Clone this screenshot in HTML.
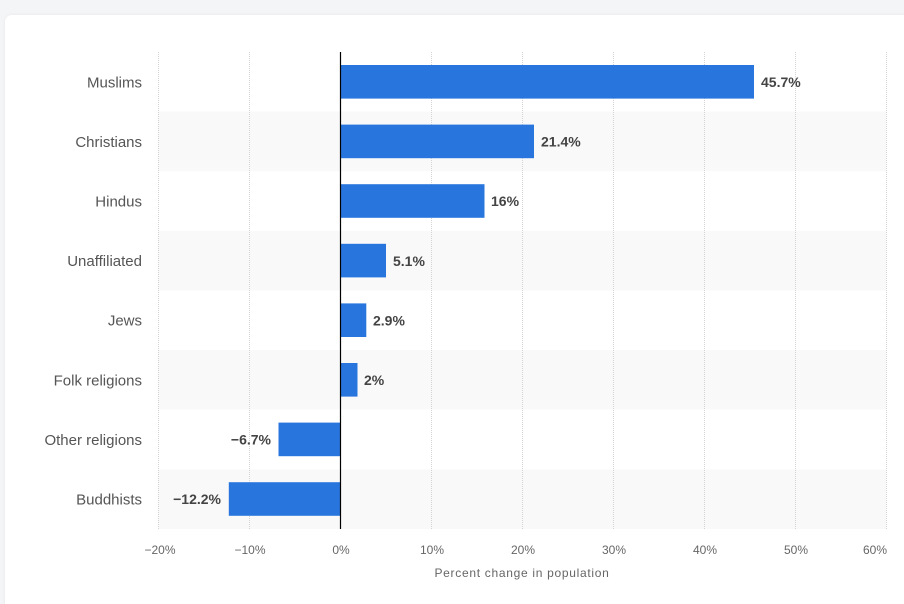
<!DOCTYPE html>
<html>
<head>
<meta charset="utf-8">
<style>
  html,body{margin:0;padding:0;background:#f4f5f7;}
  body{width:904px;height:604px;overflow:hidden;position:relative;font-family:"Liberation Sans",sans-serif;}
  svg{position:absolute;left:0;top:0;}
</style>
</head>
<body>
<svg width="904" height="604" viewBox="0 0 904 604" xmlns="http://www.w3.org/2000/svg">
  <defs>
    <filter id="sh" x="-5%" y="-5%" width="110%" height="110%">
      <feDropShadow dx="0" dy="0" stdDeviation="1.5" flood-color="#000" flood-opacity="0.06"/>
    </filter>
  </defs>
  <rect x="0" y="0" width="904" height="604" fill="#f4f5f7"/>
  <rect x="5" y="15" width="920" height="610" rx="7" fill="#ffffff" filter="url(#sh)"/>

  <!-- alternating bands -->
  <g fill="#f9f9f9">
    <rect x="158" y="111.6" width="728" height="59.6"/>
    <rect x="158" y="230.8" width="728" height="59.6"/>
    <rect x="158" y="350" width="728" height="59.6"/>
    <rect x="158" y="469.4" width="728" height="59.6"/>
  </g>

  <!-- gridlines -->
  <g stroke="#d4d4d4" stroke-width="1" stroke-dasharray="1,1">
    <line x1="158.5" y1="52" x2="158.5" y2="529"/>
    <line x1="249.5" y1="52" x2="249.5" y2="529"/>
    <line x1="431.5" y1="52" x2="431.5" y2="529"/>
    <line x1="522.5" y1="52" x2="522.5" y2="529"/>
    <line x1="613.5" y1="52" x2="613.5" y2="529"/>
    <line x1="704.5" y1="52" x2="704.5" y2="529"/>
    <line x1="795.5" y1="52" x2="795.5" y2="529"/>
    <line x1="886.5" y1="52" x2="886.5" y2="529"/>
  </g>

  <!-- bars -->
  <g fill="#2876dd">
    <rect x="340" y="65" width="414" height="33.6"/>
    <rect x="340" y="124.6" width="194" height="33.6"/>
    <rect x="340" y="184.2" width="144.5" height="33.6"/>
    <rect x="340" y="243.8" width="46" height="33.6"/>
    <rect x="340" y="303.4" width="26.3" height="33.6"/>
    <rect x="340" y="363" width="17.5" height="33.6"/>
    <rect x="278.5" y="422.6" width="61.5" height="33.6"/>
    <rect x="228.8" y="482.2" width="111.2" height="33.6"/>
  </g>

  <!-- zero line -->
  <line x1="340.5" y1="52" x2="340.5" y2="529" stroke="#000" stroke-width="1.2"/>

  <!-- category labels -->
  <g font-family="'Liberation Sans',sans-serif" font-size="15" fill="#555" text-anchor="end">
    <text x="142" y="87.3">Muslims</text>
    <text x="142" y="146.9">Christians</text>
    <text x="142" y="206.5">Hindus</text>
    <text x="142" y="266.1">Unaffiliated</text>
    <text x="142" y="325.7">Jews</text>
    <text x="142" y="385.3">Folk religions</text>
    <text x="142" y="444.9">Other religions</text>
    <text x="142" y="504.5">Buddhists</text>
  </g>

  <!-- value labels -->
  <g font-family="'Liberation Sans',sans-serif" font-size="14" font-weight="bold" fill="#444">
    <text x="761" y="87">45.7%</text>
    <text x="541" y="146.6">21.4%</text>
    <text x="491" y="206.2">16%</text>
    <text x="393" y="265.8">5.1%</text>
    <text x="373" y="325.4">2.9%</text>
    <text x="364" y="385">2%</text>
    <text x="271" y="444.6" text-anchor="end">−6.7%</text>
    <text x="221" y="504.2" text-anchor="end">−12.2%</text>
  </g>

  <!-- x tick labels -->
  <g font-family="'Liberation Sans',sans-serif" font-size="12" fill="#666" text-anchor="middle">
    <text x="160" y="554">−20%</text>
    <text x="250" y="554">−10%</text>
    <text x="341" y="554">0%</text>
    <text x="432" y="554">10%</text>
    <text x="523" y="554">20%</text>
    <text x="614" y="554">30%</text>
    <text x="705" y="554">40%</text>
    <text x="796" y="554">50%</text>
    <text x="887" y="554" text-anchor="end">60%</text>
  </g>

  <!-- axis title -->
  <text x="522" y="577" font-family="'Liberation Sans',sans-serif" font-size="12" fill="#666" text-anchor="middle" letter-spacing="0.7">Percent change in population</text>
</svg>
</body>
</html>
